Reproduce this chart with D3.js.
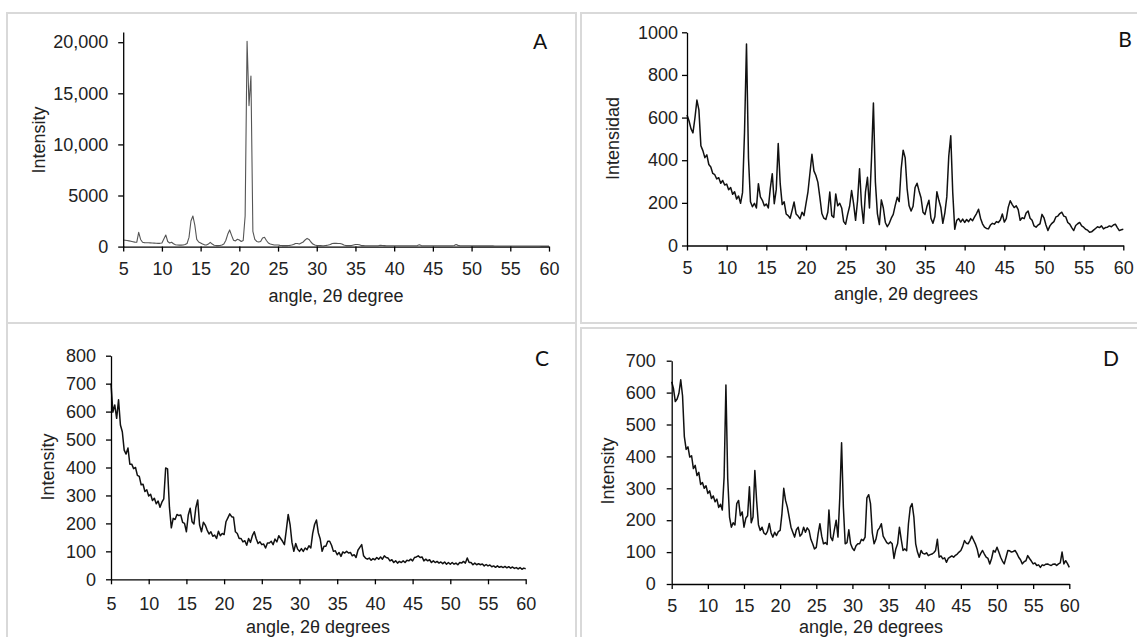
<!DOCTYPE html>
<html><head><meta charset="utf-8">
<script src="https://cdn.jsdelivr.net/npm/d3@7"></script>
<style>
body{margin:0;background:#fff;}
svg{display:block;}
text{font-family:"Liberation Sans",Arial,sans-serif;}
</style></head><body>
<svg id="chart" width="1137" height="637"></svg>
<script>
// ---- data (2θ sampled every 0.25° from 5° to 60°) ----
const angleStart = 5, angleStep = 0.25;
const xTicks = [5,10,15,20,25,30,35,40,45,50,55,60];

const intensityA = [
640,620,600,560, 520,480,440,420, 1400,700,420,390, 380,370,360,350, 340,330,320,320,
350,750,1140,500, 350,420,280,180, 150,140,140,150, 200,300,900,2500, 3000,2100,700,450,
350,250,170,160, 250,420,250,130, 100,100,110,150, 250,600,1200,1630, 1100,620,560,720,
650,500,600,3000, 20100,13800,16700,1500, 700,500,450,500, 850,920,600,350, 250,200,150,150,
150,120,100,100, 100,100,120,150, 200,300,300,250, 350,450,650,800, 700,450,250,150,
100,100,100,90, 100,120,150,200, 300,320,320,300, 300,250,150,100, 100,100,100,150,
200,200,180,100, 100,90,90,90, 90,90,90,90, 100,120,110,100, 90,90,90,90,
90,90,90,90, 90,90,90,90, 90,90,90,90, 100,180,100,90, 90,90,90,90,
90,90,90,90, 80,80,80,80, 80,80,80,100, 200,120,80,80, 80,80,80,80,
75,75,74,74, 73,73,72,72, 70,70,68,68, 66,66,65,65, 63,63,62,62,
60,60,59,59, 58,57,56,56, 55,55,54,54, 53,53,52,52, 51,51,50,50,
50];

const intensityB = [
612,585,548,528, 598,682,636,468, 445,412,425,380, 368,338,332,312, 318,292,305,284,
288,262,272,240, 252,218,232,198, 248,530,945,410, 205,182,198,176, 290,228,212,186,
195,176,268,337, 196,262,478,290, 192,205,148,140, 128,165,204,148, 138,125,156,140,
196,252,340,428, 350,328,296,226, 150,128,122,156, 251,140,132,242, 186,198,176,112,
100,146,184,258, 196,118,210,360, 190,104,252,320, 176,400,668,296, 150,98,214,176,
108,88,104,128, 146,188,226,206, 360,447,412,266, 186,162,184,272, 292,256,224,156,
146,184,212,128, 104,136,252,212, 178,104,152,228, 420,515,248,76, 118,126,110,124,
108,122,112,126, 116,134,150,170, 128,102,86,80, 78,96,104,100, 112,108,120,148,
110,126,180,210, 192,178,186,168, 118,130,126,152, 162,128,118,92, 86,96,102,146,
130,96,70,92, 104,112,134,138, 150,156,138,134, 108,100,84,70, 94,102,108,92,
86,76,72,62, 64,72,80,88, 84,92,78,84, 86,92,88,96, 100,84,70,74,
76];

const intensityC = [
700,598,624,576, 642,552,528,462, 448,470,412,412, 396,400,372,368, 338,340,314,320,
298,304,282,290, 270,280,258,276, 288,398,395,258, 184,218,214,232, 228,230,204,200,
170,230,254,206, 198,256,284,194, 170,204,194,176, 162,170,154,158, 146,172,156,164,
160,206,220,234, 224,222,170,164, 146,146,134,138, 122,146,132,156, 170,146,128,134,
124,126,112,130, 130,136,124,144, 134,156,146,136, 124,176,232,196, 132,100,128,108,
100,110,100,112, 106,120,112,164, 196,212,166,144, 100,118,118,136, 136,122,100,102,
88,96,82,98, 94,100,94,96, 84,88,78,104, 114,124,84,76, 72,76,68,74,
70,78,72,80, 72,84,78,76, 66,70,60,66, 58,64,60,66, 60,68,66,72,
66,78,80,84, 78,80,66,72, 66,70,60,66, 60,64,58,62, 56,62,54,60,
54,60,54,58, 52,60,58,64, 58,76,60,60, 52,58,52,56, 52,55,48,53,
48,51,45,48, 43,48,43,46, 42,46,41,45, 40,44,39,42, 37,42,36,40,
38];

const intensityD = [
634,612,572,580, 598,640,590,462, 422,430,398,402, 362,372,340,350, 312,318,300,308,
284,292,268,276, 258,266,240,250, 232,335,624,330, 210,178,192,185, 252,262,214,226,
178,206,214,305, 192,210,356,260, 186,168,178,160, 155,165,190,160, 147,162,152,164,
168,220,300,262, 241,210,178,162, 147,170,178,150, 157,178,162,176, 168,140,126,110,
115,157,189,150, 126,130,124,232, 147,136,170,200, 147,270,443,240, 126,130,170,126,
112,105,120,126, 126,140,136,147, 270,280,252,160, 126,140,168,176, 189,150,140,130,
126,132,126,80, 110,126,178,140, 105,110,104,189, 240,252,210,126, 100,84,105,96,
94,98,89,92, 94,98,105,140, 84,88,79,82, 68,80,84,88, 84,90,94,100,
105,118,136,128, 126,136,150,138, 126,110,84,96, 105,94,84,80, 63,80,105,100,
115,100,84,72, 63,84,105,104, 100,102,105,96, 84,76,63,70, 73,89,80,72,
63,66,58,60, 52,60,58,62, 63,60,58,62, 63,58,63,66, 100,63,73,64,
52];

const yTicksA = [0,5000,10000,15000,20000];
const yTickLabelsA = ["0","5000","10,000","15,000","20,000"];
const yTicksB = [0,200,400,600,800,1000];
const yTicksC = [0,100,200,300,400,500,600,700,800];
const yTicksD = [0,100,200,300,400,500,600,700];

const panelLabels = ["A","B","C","D"];
const yTitles = ["Intensity","Intensidad","Intensity","Intensity"];
const xTitles = ["angle, 2θ degree","angle, 2θ degrees","angle, 2θ degrees","angle, 2θ degrees"];
const yMaxes = [21000,1000,800,700];

// ---- layout ----
const layout = [
  {box:[7,13,569,310], x0:123.2, x1:549, y0:246.6, yTop:32.0, yPad:10, xPad:11,
   yt:[39,140], xt:[336,296], lab:[540,40], stroke:"#555", sw:1.1},
  {box:[581,13,600,310], x0:687, x1:1123.3, y0:245.5, yTop:32.3, yPad:4, xPad:11,
   yt:[613,138.5], xt:[906,294], lab:[1125,38], stroke:"#111", sw:1.5},
  {box:[7,323,569,340], x0:111, x1:525.7, y0:579.3, yTop:355.7, yPad:10, xPad:13,
   yt:[48,467], xt:[318,626.5], lab:[542,357], stroke:"#111", sw:1.5},
  {box:[581,328,600,340], x0:671.7, x1:1069.3, y0:584, yTop:360.7, yPad:11, xPad:10.5,
   yt:[608,471], xt:[871,627], lab:[1111,357], stroke:"#111", sw:1.5}
];

const series = [intensityA,intensityB,intensityC,intensityD];
const yTickSets = [yTicksA,yTicksB,yTicksC,yTicksD];
const yTickLabelSets = [yTickLabelsA, yTicksB.map(String), yTicksC.map(String), yTicksD.map(String)];

const svg = d3.select("#chart");

layout.forEach((L,i)=>{
  const g = svg.append("g");
  g.append("rect").attr("x",L.box[0]).attr("y",L.box[1]).attr("width",L.box[2]).attr("height",L.box[3])
    .attr("fill","none").attr("stroke","#d9d9d9").attr("stroke-width",2);

  const x = d3.scaleLinear().domain([5,60]).range([L.x0,L.x1]);
  const y = d3.scaleLinear().domain([0,yMaxes[i]]).range([L.y0,L.yTop]);

  const line = d3.line()
    .x((d,k)=>x(angleStart + k*angleStep))
    .y(d=>y(d));
  g.append("path").datum(series[i]).attr("d",line)
    .attr("fill","none").attr("stroke",L.stroke).attr("stroke-width",L.sw)
    .attr("stroke-linejoin","round");

  const labels = yTickLabelSets[i];
  const ticks = yTickSets[i];
  const ya = g.append("g").attr("transform",`translate(${L.x0},0)`)
    .call(d3.axisLeft(y).tickValues(ticks).tickFormat(d=>labels[ticks.indexOf(d)])
      .tickSize(5).tickSizeOuter(0).tickPadding(L.yPad));
  const xa = g.append("g").attr("transform",`translate(0,${L.y0})`)
    .call(d3.axisBottom(x).tickValues(xTicks).tickFormat(d=>String(d))
      .tickSize(5).tickSizeOuter(0).tickPadding(L.xPad));
  [ya,xa].forEach(a=>{
    a.select(".domain").attr("stroke","#000").attr("stroke-width",1.3);
    a.selectAll(".tick line").attr("stroke","#000").attr("stroke-width",1.3);
    a.selectAll(".tick text").attr("font-size","18px").attr("fill","#222")
      .attr("font-family","'Liberation Sans',Arial,sans-serif");
  });

  g.append("text").attr("transform",`translate(${L.yt[0]},${L.yt[1]}) rotate(-90)`)
    .attr("text-anchor","middle").attr("dominant-baseline","central")
    .attr("font-size","18px").attr("fill","#222").text(yTitles[i]);
  g.append("text").attr("x",L.xt[0]).attr("y",L.xt[1])
    .attr("text-anchor","middle").attr("dominant-baseline","central")
    .attr("font-size","18px").attr("fill","#222").text(xTitles[i]);
  g.append("text").attr("x",L.lab[0]).attr("y",L.lab[1])
    .attr("text-anchor","middle").attr("dominant-baseline","central")
    .attr("font-size","21px").attr("fill","#111")
    .style("font-family","Lato,'Open Sans',sans-serif").text(panelLabels[i]);
});
</script>
</body></html>
